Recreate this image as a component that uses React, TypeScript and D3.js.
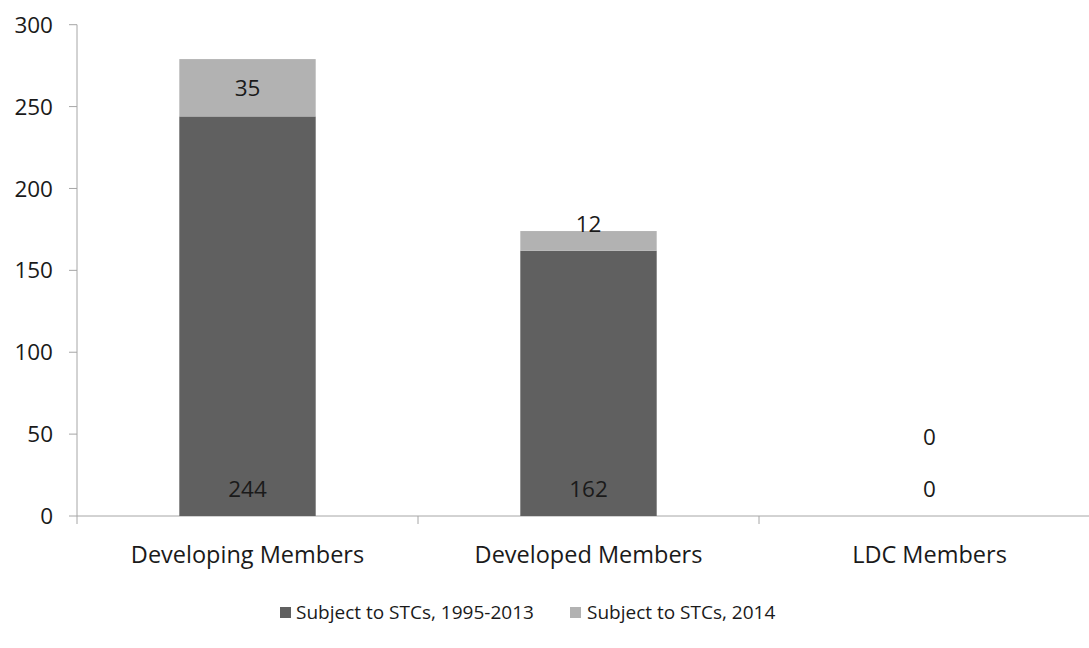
import React from "react";
import * as d3 from "d3";

const categories = ["Developing Members", "Developed Members", "LDC Members"];
const series1995 = [244, 162, 0];
const series2014 = [35, 12, 0];
const seriesNames = ["Subject to STCs, 1995-2013", "Subject to STCs, 2014"];
const yTicks = [0, 50, 100, 150, 200, 250, 300];

const W = 1089;
const H = 648;
const FONT = "'Open Sans', sans-serif";
const DARK = "#606060";
const LIGHT = "#b2b2b2";
const AXIS = "#a6a6a6";
const TXT = "#1a1a1a";

export default function App() {
  const left = 77;
  const right = 1100;
  const top = 24.7;
  const bottom = 516;
  const x = d3.scaleBand<string>().domain(categories).range([left, right]).paddingInner(0.6).paddingOuter(0.3);
  const xb = d3.scaleBand<string>().domain(categories).range([left, right]);
  const y = d3.scaleLinear().domain([0, 300]).range([bottom, top]);

  return (
    <div style={{ position: "fixed", left: 0, top: 0, width: W, height: H, background: "#fff" }}>
      <svg width={W} height={H} style={{ display: "block", fontFamily: FONT }}>
        {/* y axis */}
        <line x1={left} x2={left} y1={y(300)} y2={y(0)} stroke={AXIS} strokeWidth={1} />
        {yTicks.map((t) => (
          <g key={t}>
            <line x1={left - 8} x2={left} y1={y(t)} y2={y(t)} stroke={AXIS} />
            <text x={53} y={y(t)} dy="0.36em" textAnchor="end" fontSize={22.5} fill={TXT}>
              {t}
            </text>
          </g>
        ))}
        {/* x axis */}
        <line x1={left} x2={right} y1={y(0)} y2={y(0)} stroke={AXIS} />
        {categories.map((c) => (
          <line key={c} x1={xb(c)!} x2={xb(c)!} y1={y(0)} y2={y(0) + 8} stroke={AXIS} />
        ))}
        {categories.map((c) => (
          <text key={c} x={xb(c)! + xb.bandwidth() / 2} y={y(0) + 39} dy="0.36em" textAnchor="middle" fontSize={23.5} fill={TXT}>
            {c}
          </text>
        ))}
        {/* bars */}
        {categories.map((c, i) => (
          <g key={c}>
            <rect x={x(c)} width={x.bandwidth()} y={y(series1995[i])} height={y(0) - y(series1995[i])} fill={DARK} />
            <rect
              x={x(c)}
              width={x.bandwidth()}
              y={y(series1995[i] + series2014[i])}
              height={y(series1995[i]) - y(series1995[i] + series2014[i])}
              fill={LIGHT}
            />
          </g>
        ))}
        {/* labels for 1995-2013 (inside base) */}
        {categories.map((c, i) => (
          <text key={c} x={x(c)! + x.bandwidth() / 2} y={y(0) - 27} dy="0.36em" textAnchor="middle" fontSize={22.5} fill={TXT}>
            {series1995[i]}
          </text>
        ))}
        {/* labels for 2014 */}
        {categories.map((c, i) => {
          const s = series1995[i];
          const e = series1995[i] + series2014[i];
          let ly: number;
          if (i === 0) ly = (y(s) + y(e)) / 2;
          else if (i === 1) ly = y(e) - 7;
          else ly = y(0) - 79;
          return (
            <text key={c} x={x(c)! + x.bandwidth() / 2} y={ly} dy="0.36em" textAnchor="middle" fontSize={22.5} fill={TXT}>
              {series2014[i]}
            </text>
          );
        })}
        {/* legend */}
        <g>
          <rect x={280} y={607} width={11} height={11} fill={DARK} />
          <text x={296} y={612} dy="0.36em" fontSize={19} fill={TXT}>
            {seriesNames[0]}
          </text>
          <rect x={570} y={607} width={11} height={11} fill={LIGHT} />
          <text x={587} y={612} dy="0.36em" fontSize={19} fill={TXT}>
            {seriesNames[1]}
          </text>
        </g>
      </svg>
    </div>
  );
}
